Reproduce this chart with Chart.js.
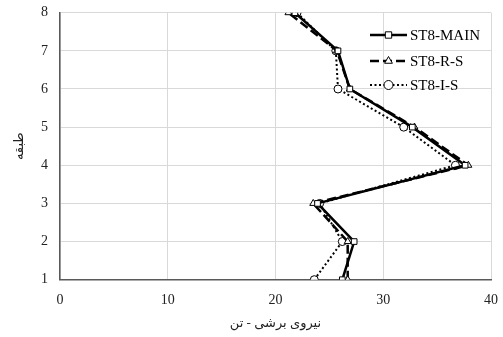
<!DOCTYPE html>
<html>
<head>
<meta charset="utf-8">
<script src="https://cdn.jsdelivr.net/npm/chart.js@4/dist/chart.umd.min.js"></script>
<style>
  html, body { margin: 0; padding: 0; background: #fff; }
  #wrap { width: 503px; height: 337px; }
</style>
</head>
<body>
<div id="wrap"><canvas id="shear"></canvas></div>
<script>
// floors and storey shear (ton) for each model
const floors = [1, 2, 3, 4, 5, 6, 7, 8];
const stMain = [26.2, 27.3, 23.9, 37.6, 32.7, 26.9, 25.8, 21.8];
const stRS   = [26.7, 26.7, 23.5, 37.9, 32.9, 26.9, 25.7, 21.2];
const stIS   = [23.6, 26.2, 24.1, 36.7, 31.9, 25.8, 25.6, 22.0];
const xTicks = [0, 10, 20, 30, 40];
const seriesNames = ['ST8-MAIN', 'ST8-R-S', 'ST8-I-S'];

const serif = "'Liberation Serif', 'DejaVu Serif', serif";
const faFont = "'Liberation Serif', 'DejaVu Sans', sans-serif";

function pts(vals) {
    return vals.map((v, i) => ({ x: v, y: floors[i] }));
}

const styles = [
    { dash: [], width: 2.5, point: 'rect' },
    { dash: [9, 4], width: 2.5, point: 'triangle' },
    { dash: [2, 2.5], width: 2, point: 'circle' }
];

// legend drawn inside the plot, line sample with marker in middle
const insideLegend = {
    id: 'insideLegend',
    afterDraw(chart) {
        const ctx = chart.ctx;
        const rows = [35, 61, 85];
        chart.data.datasets.forEach((ds, i) => {
            const y = rows[i];
            ctx.save();
            ctx.strokeStyle = '#000';
            ctx.lineWidth = ds.borderWidth;
            ctx.setLineDash(ds.borderDash || []);
            ctx.beginPath();
            ctx.moveTo(370, y);
            ctx.lineTo(407, y);
            ctx.stroke();
            ctx.setLineDash([]);
            ctx.fillStyle = '#fff';
            ctx.strokeStyle = '#000';
            ctx.lineWidth = 1;
            Chart.helpers.drawPoint(ctx, { pointStyle: ds.pointStyle, radius: 4.5, borderWidth: 1, rotation: 0 }, 388.5, y);
            ctx.fillStyle = '#000';
            ctx.font = "15px " + serif;
            ctx.textBaseline = 'middle';
            ctx.textAlign = 'left';
            ctx.fillText(ds.label, 410, y + 1);
            ctx.restore();
        });
    }
};

new Chart(document.getElementById('shear').getContext('2d'), {
    type: 'line',
    data: {
        datasets: [stMain, stRS, stIS].map((vals, i) => ({
            label: seriesNames[i],
            data: pts(vals),
            borderColor: '#000',
            borderWidth: styles[i].width,
            borderDash: styles[i].dash,
            pointStyle: styles[i].point,
            pointRadius: 4,
            pointBorderWidth: 1,
            pointBorderColor: '#000',
            pointBackgroundColor: '#fff',
            tension: 0,
            fill: false
        }))
    },
    options: {
        responsive: true,
        maintainAspectRatio: false,
        animation: false,
        layout: { padding: { top: 12.7, right: 12, left: 0, bottom: 0 } },
        scales: {
            x: {
                type: 'linear',
                min: 0, max: 40,
                afterBuildTicks: s => { s.ticks = xTicks.map(v => ({ value: v })); },
                afterFit: s => { s.height = 57.3; s.paddingLeft = 0; s.paddingRight = 0; },
                grid: { color: '#d9d9d9', lineWidth: 1, drawTicks: false },
                border: { color: '#595959', width: 1.5 },
                ticks: { color: '#222', padding: 12, font: { family: serif, size: 14 } },
                title: {
                    display: true, text: 'نیروی برشی - تن', color: '#222',
                    font: { family: faFont, size: 13 }, padding: { top: 0, bottom: 6 }
                }
            },
            y: {
                type: 'linear',
                min: 1, max: 8,
                ticks: { stepSize: 1, color: '#222', padding: 12, font: { family: serif, size: 14 } },
                afterFit: s => { s.width = 60; s.paddingTop = 0; s.paddingBottom = 0; },
                grid: { color: '#d9d9d9', lineWidth: 1, drawTicks: false },
                border: { color: '#595959', width: 1.5 },
                title: {
                    display: true, text: 'طبقه', color: '#222',
                    font: { family: faFont, size: 13 }, padding: { top: 12, bottom: 0 }
                }
            }
        },
        plugins: {
            legend: { display: false },
            tooltip: { enabled: false }
        }
    },
    plugins: [insideLegend]
});
</script>
</body>
</html>
